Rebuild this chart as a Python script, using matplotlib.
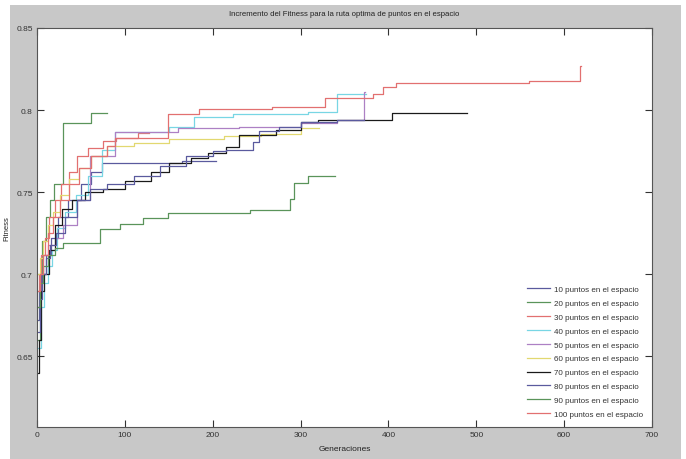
import matplotlib
matplotlib.use("Agg")
import matplotlib.pyplot as plt
from matplotlib.patches import Rectangle

plt.rcParams['font.family'] = ['Liberation Sans Narrow', 'Liberation Sans', 'DejaVu Sans']

labels = ["10 puntos en el espacio", "20 puntos en el espacio", "30 puntos en el espacio",
          "40 puntos en el espacio", "50 puntos en el espacio", "60 puntos en el espacio",
          "70 puntos en el espacio", "80 puntos en el espacio", "90 puntos en el espacio",
          "100 puntos en el espacio"]

colors = ['#5a5a9e', '#5a945a', '#e27070', '#78d6e4', '#ad80c4', '#e2d870', '#1a1a1a',
          '#5a5a9e', '#5a945a', '#e27070']

# step points (generation where value changes, fitness) and final generation
gen10 = [0, 2, 5, 10, 16, 24, 35, 50, 62, 74, 165]
fit10 = [0.672, 0.69, 0.70, 0.712, 0.722, 0.735, 0.745, 0.755, 0.762, 0.768, 0.769]
end10 = 204

gen20 = [0, 3, 6, 10, 15, 19, 30, 61]
fit20 = [0.66, 0.70, 0.72, 0.735, 0.745, 0.755, 0.792, 0.798]
end20 = 80

gen30 = [0, 2, 5, 9, 14, 20, 27, 36, 46, 58, 75, 90, 115]
fit30 = [0.69, 0.70, 0.712, 0.722, 0.735, 0.745, 0.755, 0.762, 0.772, 0.777, 0.781, 0.783, 0.786]
end30 = 128

gen40 = [0, 4, 8, 12, 17, 23, 32, 44, 58, 74, 89, 150, 179, 223, 309, 342]
fit40 = [0.655, 0.68, 0.695, 0.705, 0.715, 0.728, 0.738, 0.748, 0.76, 0.776, 0.7866, 0.79,
         0.796, 0.7975, 0.799, 0.81]
end40 = 374

gen50 = [0, 3, 7, 12, 20, 30, 45, 60, 89, 160, 230, 300, 342, 372]
fit50 = [0.68, 0.70, 0.712, 0.718, 0.722, 0.73, 0.745, 0.772, 0.7865, 0.789, 0.79, 0.792,
         0.794, 0.811]
end50 = 373

gen60 = [0, 3, 7, 12, 18, 26, 36, 48, 62, 80, 110, 150, 213, 255, 300]
fit60 = [0.70, 0.71, 0.72, 0.73, 0.738, 0.748, 0.758, 0.765, 0.772, 0.778, 0.78, 0.7825,
         0.784, 0.7856, 0.789]
end60 = 321

gen70 = [0, 2, 4, 8, 14, 20, 28, 40, 55, 75, 100, 130, 150, 175, 195, 215, 230, 272, 300,
         320, 404]
fit70 = [0.64, 0.66, 0.69, 0.70, 0.715, 0.73, 0.74, 0.745, 0.75, 0.752, 0.757, 0.762, 0.768,
         0.771, 0.774, 0.7775, 0.785, 0.788, 0.7925, 0.794, 0.798]
end70 = 489

gen80 = [0, 3, 6, 10, 15, 22, 32, 45, 60, 80, 110, 140, 170, 200, 215, 246, 253, 275, 300,
         342]
fit80 = [0.665, 0.685, 0.70, 0.71, 0.718, 0.725, 0.735, 0.745, 0.752, 0.755, 0.76, 0.766,
         0.772, 0.775, 0.776, 0.7806, 0.787, 0.79, 0.7925, 0.794]
end80 = 372

gen90 = [0, 3, 7, 12, 20, 30, 72, 95, 121, 149, 243, 288, 292, 308]
fit90 = [0.68, 0.695, 0.705, 0.712, 0.716, 0.7188, 0.7275, 0.7306, 0.734, 0.7375, 0.739,
         0.7456, 0.7556, 0.76]
end90 = 339

gen100 = [0, 3, 7, 12, 18, 26, 36, 48, 62, 80, 89, 149, 184, 268, 328, 382, 394, 409, 560, 618]
fit100 = [0.69, 0.70, 0.712, 0.725, 0.735, 0.745, 0.755, 0.765, 0.772, 0.778, 0.783, 0.7975,
          0.8005, 0.802, 0.8075, 0.81, 0.814, 0.8165, 0.818, 0.827]
end100 = 619

series = [(gen10, fit10, end10), (gen20, fit20, end20), (gen30, fit30, end30),
          (gen40, fit40, end40), (gen50, fit50, end50), (gen60, fit60, end60),
          (gen70, fit70, end70), (gen80, fit80, end80), (gen90, fit90, end90),
          (gen100, fit100, end100)]

fig = plt.figure(figsize=(6.86, 4.60), dpi=100, facecolor='white')
fig.patches.append(Rectangle((10 / 686, 0), 671 / 686, 454 / 460, transform=fig.transFigure,
                             facecolor='#c8c8c8', edgecolor='none', zorder=-10))
ax = fig.add_axes([37 / 686, 1 - 428 / 460, 615 / 686, 399 / 460])
ax.set_facecolor('white')

for (g, f, e), lab, col in zip(series, labels, colors):
    xs = list(g) + [e]
    ys = list(f) + [f[-1]]
    ax.plot(xs, ys, drawstyle='steps-post', color=col, lw=0.9, label=lab)

ax.set_xlim(0, 700)
ax.set_ylim(0.607, 0.85)
ax.set_xticks(range(0, 701, 100))
ax.set_yticks([0.65, 0.7, 0.75, 0.8, 0.85])
ax.set_yticklabels(['0.65', '0.7', '0.75', '0.8', '0.85'])
ax.tick_params(direction='in', length=5, width=0.8, top=True, right=True, labelsize=6,
               colors='#333333', pad=3)
for s in ax.spines.values():
    s.set_color('#555555')
    s.set_linewidth(0.8)

ax.set_title('Incremento del Fitness para la ruta optima de puntos en el espacio',
             fontsize=5.6, color='#222222', pad=9)
ax.set_xlabel('Generaciones', fontsize=6, color='#222222', labelpad=5)
ax.set_ylabel('Fitness', fontsize=5.5, color='#222222', labelpad=4)

leg = ax.legend(loc='lower right', fontsize=5.8, frameon=False, handlelength=2.8,
                labelspacing=0.78, handletextpad=0.5, borderaxespad=0.7)
for t in leg.get_texts():
    t.set_color('#333333')

fig.savefig('out.png', dpi=100, facecolor='white')
